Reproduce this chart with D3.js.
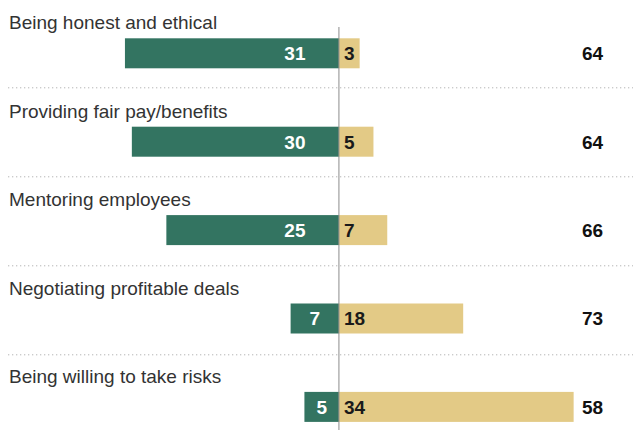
<!DOCTYPE html>
<html>
<head>
<meta charset="utf-8">
<script src="https://cdn.jsdelivr.net/npm/d3@7"></script>
<style>
  body { margin: 0; background: #fff; }
  svg { display: block; }
  .label { font: 19px "Liberation Sans", Arial, sans-serif; fill: #333; }
  .val { font: bold 19px "Liberation Sans", Arial, sans-serif; }
</style>
</head>
<body>
<svg width="633" height="430"></svg>
<script>
var categories = ["Being honest and ethical", "Providing fair pay/benefits", "Mentoring employees",
                  "Negotiating profitable deals", "Being willing to take risks"];
var women = [31, 30, 25, 7, 5];      // green, left of centre
var men = [3, 5, 7, 18, 34];         // gold, right of centre
var noDiff = [64, 64, 66, 73, 58];   // right column

var svg = d3.select("svg"),
    width = +svg.attr("width"),
    height = +svg.attr("height");

var green = "#337461",
    gold = "#e3ca86";

var x = d3.scaleLinear().domain([-49.1, 42.6]).range([0, width]);

var y = d3.scaleBand()
    .domain(categories)
    .range([38.3, 38.3 + 88.4 * categories.length])
    .paddingInner(0);

var barH = 30;

var rows = categories.map(function(c, i) {
  return {cat: c, left: women[i], right: men[i], total: noDiff[i], i: i};
});

// dotted separators
svg.selectAll(".sep")
  .data(rows.slice(0, rows.length - 1))
  .enter().append("line")
    .attr("class", "sep")
    .attr("x1", 8)
    .attr("x2", width)
    .attr("y1", function(d) { return y(d.cat) + 49.5 + d.i * 0.6; })
    .attr("y2", function(d) { return y(d.cat) + 49.5 + d.i * 0.6; })
    .attr("stroke", "#b5b5b5")
    .attr("stroke-width", 1)
    .attr("stroke-dasharray", "1.3,2.7");

var row = svg.selectAll(".row")
  .data(rows)
  .enter().append("g")
    .attr("class", "row")
    .attr("transform", function(d) { return "translate(0," + y(d.cat) + ")"; });

row.append("text")
    .attr("class", "label")
    .attr("x", 9)
    .attr("y", -9)
    .text(function(d) { return d.cat; });

row.append("rect")
    .attr("x", function(d) { return x(-d.left); })
    .attr("width", function(d) { return x(0) - x(-d.left); })
    .attr("height", barH)
    .attr("fill", green);

row.append("rect")
    .attr("x", x(0))
    .attr("width", function(d) { return x(d.right) - x(0); })
    .attr("height", barH)
    .attr("fill", gold);

row.append("text")
    .attr("class", "val")
    .attr("x", function(d) { return Math.max((x(-d.left) + x(0)) / 2, x(0) - 44); })
    .attr("y", barH / 2)
    .attr("dy", "0.36em")
    .attr("text-anchor", "middle")
    .attr("fill", "#fff")
    .text(function(d) { return d.left; });

row.append("text")
    .attr("class", "val")
    .attr("x", x(0) + 5)
    .attr("y", barH / 2)
    .attr("dy", "0.36em")
    .attr("fill", "#1a1a1a")
    .text(function(d) { return d.right; });

row.append("text")
    .attr("class", "val")
    .attr("x", 592.5)
    .attr("y", barH / 2)
    .attr("dy", "0.36em")
    .attr("text-anchor", "middle")
    .attr("fill", "#111")
    .text(function(d) { return d.total; });

// centre axis line
svg.append("line")
    .attr("x1", x(0))
    .attr("x2", x(0))
    .attr("y1", 27)
    .attr("y2", height)
    .attr("stroke", "#8c8c8c")
    .attr("stroke-width", 1);
</script>
</body>
</html>
